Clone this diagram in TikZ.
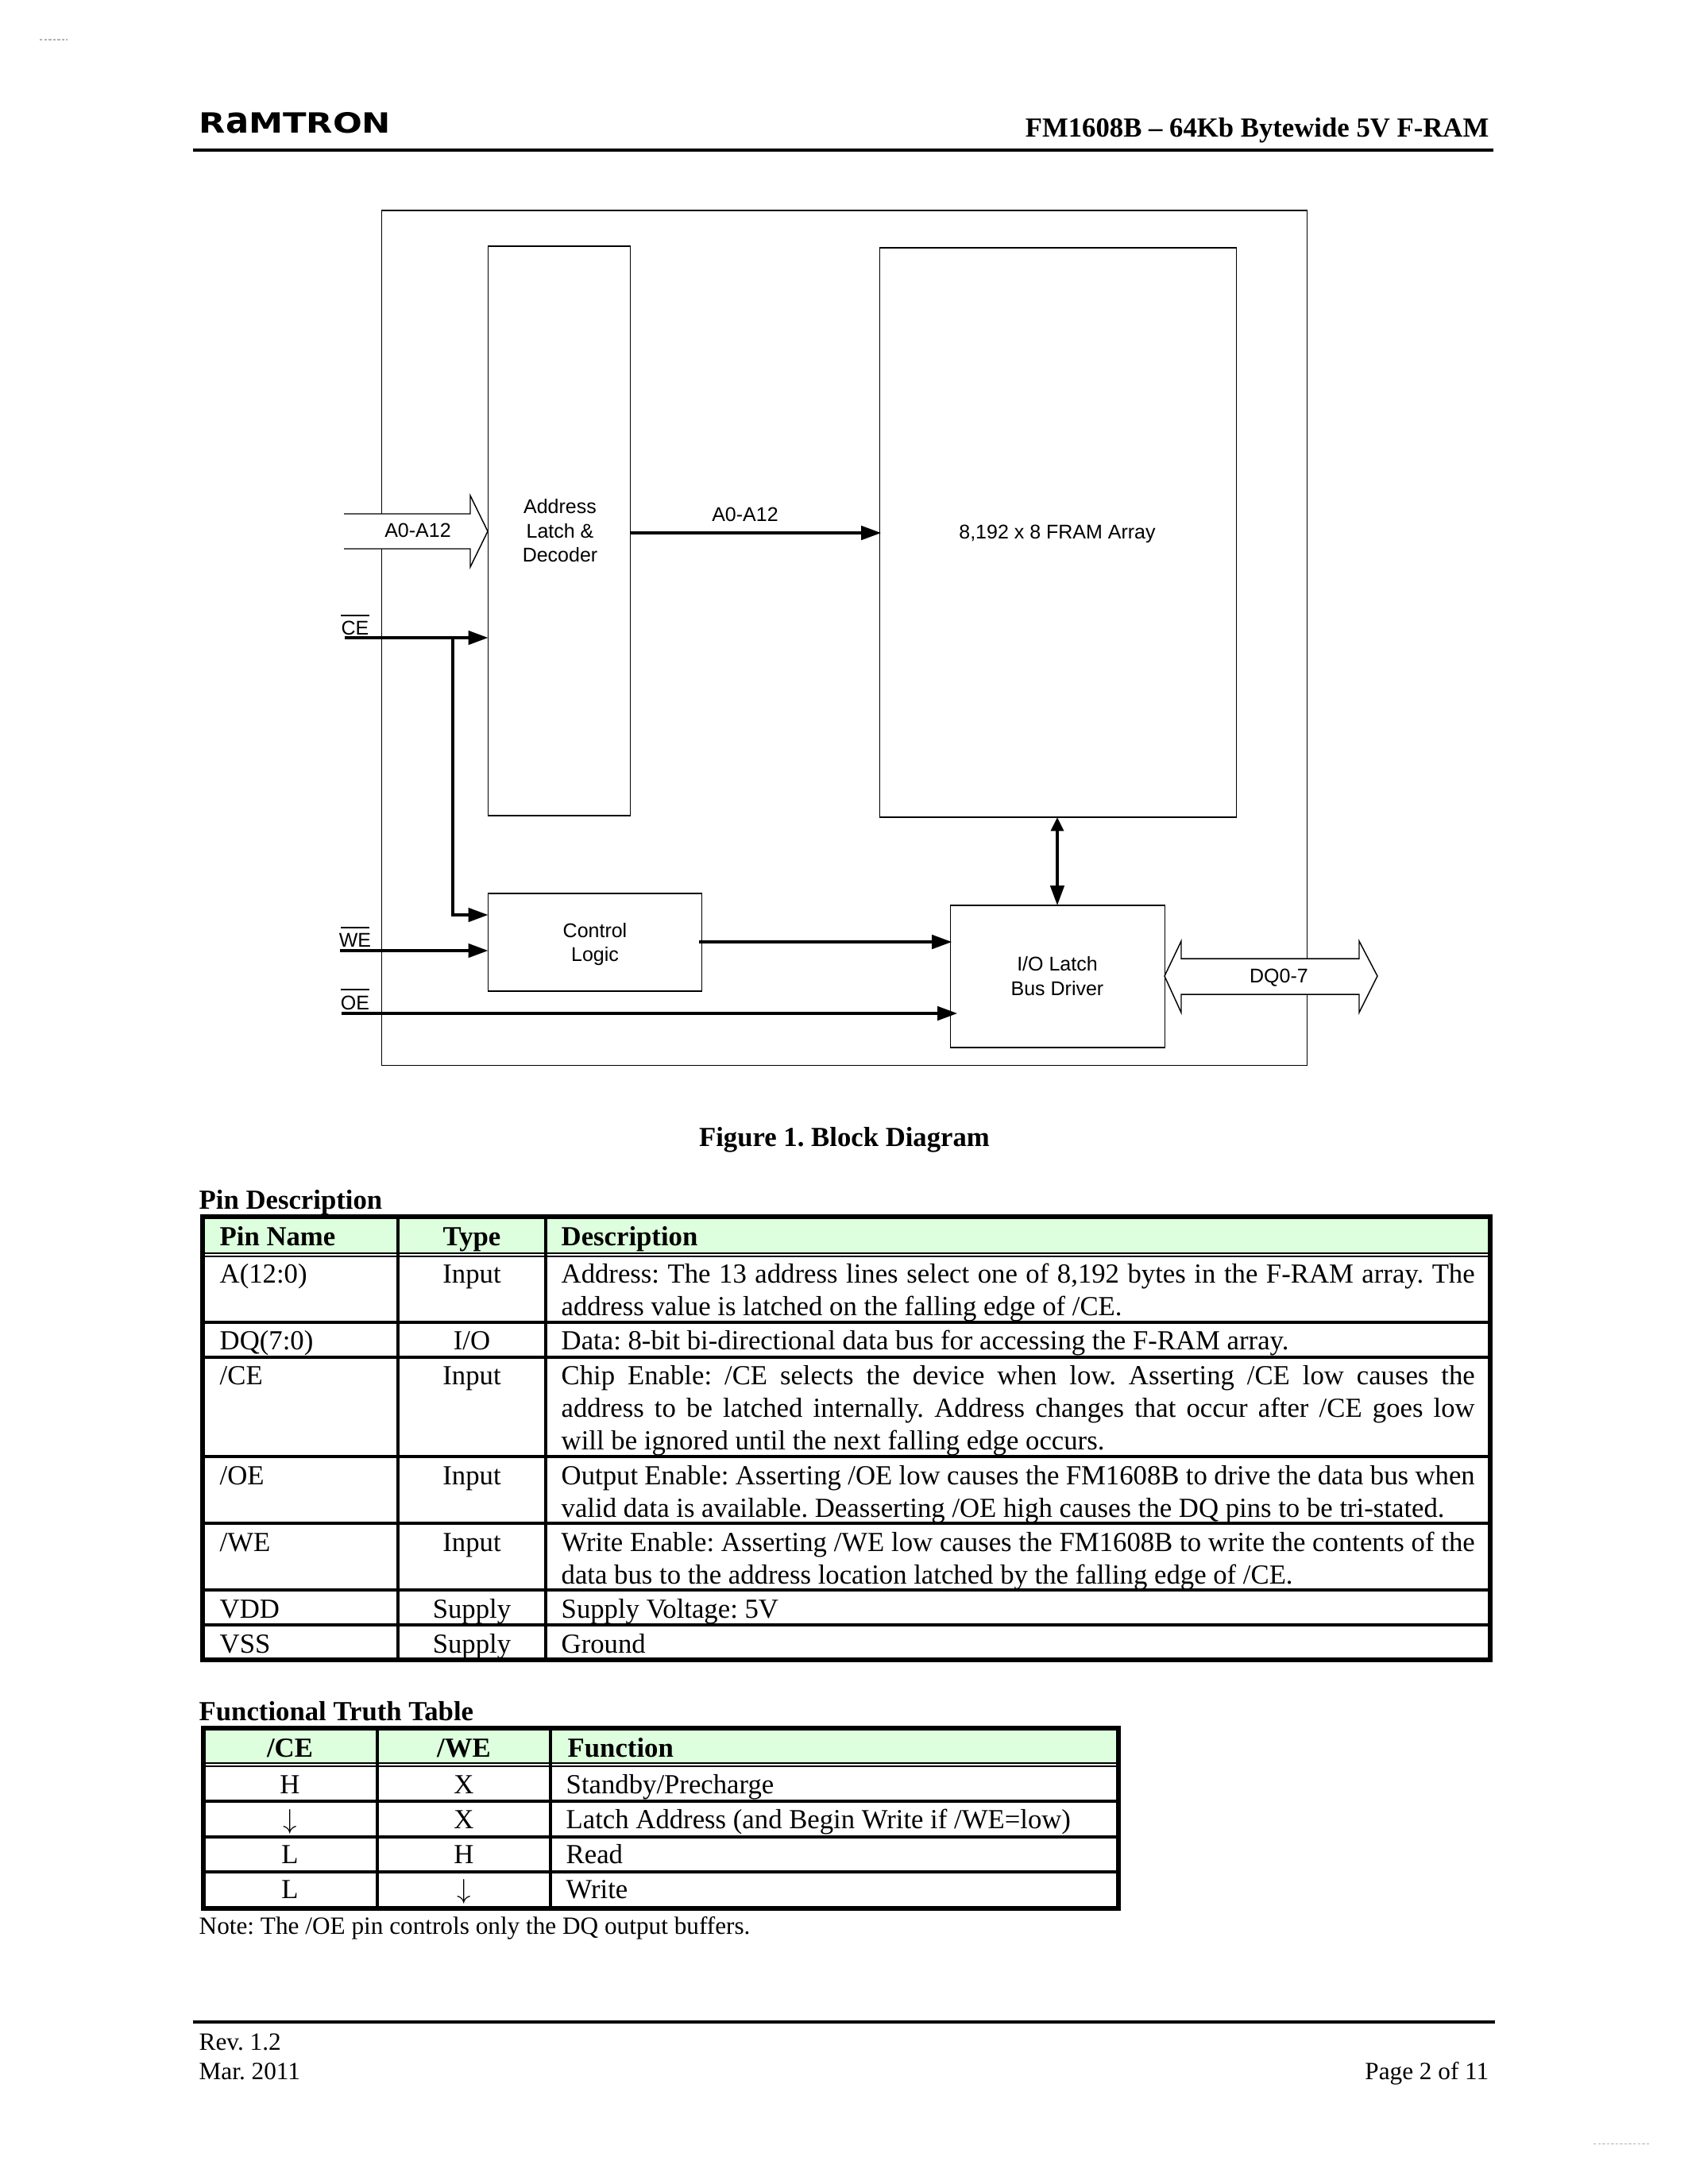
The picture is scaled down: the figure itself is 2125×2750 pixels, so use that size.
\documentclass[tikz,border=0pt]{standalone}
\usepackage{graphicx}
\usepackage{fontspec}
\setmainfont{Liberation Serif}
\newfontfamily\diagfont{Liberation Sans}
\newfontfamily\logofont{DejaVu Sans}
\usetikzlibrary{arrows.meta}
\frenchspacing
\definecolor{hdrgreen}{HTML}{DDFFDD}
\newcommand\tl[4]{\node[txt] (#1) at (#2,#3) {#4};}
\newcommand\tc[4]{\node[txtc] (#1) at (#2,#3) {#4};}
\newcommand\tb[4]{\node[txt,font=\fontsize{10}{12}\selectfont\bfseries] (#1) at (#2,#3) {#4};}
\newcommand\jl[3]{\node[txt] (#1) at (706,#2) {\makebox[331.2pt][s]{#3}};}
\newcommand\dl[4]{\node[dtxt] (#1) at (#2,#3) {#4};}
\tikzset{
  txt/.style={anchor=base west,inner sep=0pt,font=\fontsize{10}{12}\selectfont},
  txtc/.style={anchor=base,inner sep=0pt,font=\fontsize{10}{12}\selectfont},
  small/.style={font=\fontsize{9}{11}\selectfont},
  dtxt/.style={anchor=base,inner sep=0pt,font=\diagfont\fontsize{7.2}{9}\selectfont},
  thinl/.style={line width=0.42pt,black},
  blockbox/.style={draw,line width=0.42pt,inner sep=0pt,outer sep=0pt,anchor=north west},
  sig/.style={line width=1pt,black,-{Triangle[length=7.2pt,width=5pt]}},
  sigboth/.style={line width=1pt,black,{Triangle[length=5pt,width=4.6pt]}-{Triangle[length=7.2pt,width=5pt]}},
  bar/.style={line width=0.8pt},
  tabout/.style={line width=1.5pt,line cap=rect},
  tabin/.style={line width=1pt},
}
\begin{document}
\begin{tikzpicture}[x=0.288pt,y=-0.288pt]
\useasboundingbox (0,0) rectangle (2125,2750);
\fill[white] (0,0) rectangle (2125,2750);
% faint printer marks
\draw[black!30,line width=0.3pt,dash pattern=on 1pt off 0.6pt] (50,50) -- (85,50);
\draw[black!30,line width=0.3pt,dash pattern=on 1pt off 0.6pt] (2006,2699) -- (2076,2699);
% header
\node[inner sep=0pt,anchor=south west] (logo) at (250,169) {\resizebox{69.5pt}{7.5pt}{\logofont\bfseries R\scalebox{1}[1.3]{a}MTRON}};
\node[inner sep=0pt,anchor=base east,font=\fontsize{10}{12}\selectfont\bfseries] (title) at (1875,172) {FM1608B – 64Kb Bytewide 5V F-RAM};
\draw[line width=1.4pt] (243,189) -- (1880,189);
% block diagram
\node[blockbox,minimum width=335.5pt,minimum height=310pt] (chip) at (480.5,265) {};
\node[blockbox,minimum width=51.5pt,minimum height=206.5pt] (addr) at (614.5,310) {};
\node[blockbox,minimum width=129.3pt,minimum height=206.5pt] (fram) at (1107.5,312) {};
\node[blockbox,minimum width=77.5pt,minimum height=35.4pt] (ctrl) at (614.5,1125) {};
\node[blockbox,minimum width=77.8pt,minimum height=51.6pt] (io) at (1196.5,1140) {};
\draw[thinl,fill=white] (433,647) -- (592,647) -- (592,624) -- (614,669) -- (592,714) -- (592,691) -- (433,691);
\draw[thinl,fill=white] (1466,1229) -- (1487,1185) -- (1487,1207) -- (1711,1207) -- (1711,1185) -- (1734,1229) -- (1711,1275) -- (1711,1252) -- (1487,1252) -- (1487,1275) -- cycle;
\coordinate (cein) at (434,803);
\coordinate (wein) at (428,1197);
\coordinate (oein) at (430,1276);
\coordinate (cebr) at (570,803);
\coordinate (cebot) at (570,1152);
\draw[sig] (cein) -- (cein -| addr.west);
\draw[line width=1pt,-{Triangle[length=7.2pt,width=5pt]}] (cebr) -- (cebot) -- (cebot -| ctrl.west);
\draw[sig] (wein) -- (wein -| ctrl.west);
\draw[sig,shorten >=-2.5pt] (oein) -- (oein -| io.west);
\coordinate (amid) at (793,671);
\draw[sig,shorten >=-0.5pt] (amid) -- (amid -| fram.west);
\coordinate (cout) at (880,1186);
\draw[sig,shorten >=-0.5pt] (cout) -- (cout -| io.west);
\coordinate (biotop) at (1331,1029);
\draw[sigboth] (biotop) -- (biotop |- io.north);
\dl{lA}{705}{646}{Address}
\dl{lB}{705}{677}{Latch \&}
\dl{lC}{705}{707}{Decoder}
\dl{lAin}{526}{676}{A0-A12}
\dl{lAmid}{938}{656}{A0-A12}
\dl{lF}{1331}{678}{8,192 x 8 FRAM Array}
\dl{lCa}{749}{1180}{Control}
\dl{lCb}{749}{1210}{Logic}
\dl{lIa}{1331}{1222}{I/O Latch}
\dl{lIb}{1331}{1253}{Bus Driver}
\dl{lDQ}{1610}{1237}{DQ0-7}
\dl{lCE}{447}{799}{CE}
\dl{lWE}{447}{1192}{WE}
\dl{lOE}{447}{1271}{OE}
\draw[bar] (429,775) -- (465,775);
\draw[bar] (429,1168) -- (465,1168);
\draw[bar] (429,1246) -- (465,1246);
\node[anchor=base,inner sep=0pt,font=\fontsize{10}{12}\selectfont\bfseries] (fig) at (1063,1443) {Figure 1. Block Diagram};
% pin description
\tb{pd}{250}{1522}{Pin Description}
\fill[hdrgreen] (255,1532) rectangle (1876,1578);
\draw[thinl] (255,1578) -- (1876,1578);
\draw[thinl] (255,1582) -- (1876,1582);
\foreach \yy in {1665,1709,1834,1918,2002,2046} \draw[tabin] (255,\yy) -- (1876,\yy);
\draw[tabin] (501,1532) -- (501,2090);
\draw[tabin] (687,1532) -- (687,2090);
\draw[tabout] (255,1532) rectangle (1876,2090);
\tb{p1}{276}{1568}{Pin Name}
\node[txtc,font=\fontsize{10}{12}\selectfont\bfseries] (p2) at (594,1568) {Type};
\tb{p3}{706}{1568}{Description}
\tl{a1}{276}{1615}{A(12:0)}
\tc{a2}{594}{1615}{Input}
\jl{a3}{1615}{Address: The 13 address lines select one of 8,192 bytes in the F-RAM array. The}
\tl{a4}{706}{1656}{address value is latched on the falling edge of /CE.}
\tl{b1}{276}{1699}{DQ(7:0)}
\tc{b2}{594}{1699}{I/O}
\tl{b3}{706}{1699}{Data: 8-bit bi-directional data bus for accessing the F-RAM array.}
\tl{c1}{276}{1743}{/CE}
\tc{c2}{594}{1743}{Input}
\jl{c3}{1743}{Chip Enable: /CE selects the device when low. Asserting /CE low causes the}
\jl{c4}{1784}{address to be latched internally. Address changes that occur after /CE goes low}
\tl{c5}{706}{1825}{will be ignored until the next falling edge occurs.}
\tl{d1}{276}{1869}{/OE}
\tc{d2}{594}{1869}{Input}
\jl{d3}{1869}{Output Enable: Asserting /OE low causes the FM1608B to drive the data bus when}
\tl{d4}{706}{1910}{valid data is available. Deasserting /OE high causes the DQ pins to be tri-stated.}
\tl{e1}{276}{1953}{/WE}
\tc{e2}{594}{1953}{Input}
\jl{e3}{1953}{Write Enable: Asserting /WE low causes the FM1608B to write the contents of the}
\tl{e4}{706}{1994}{data bus to the address location latched by the falling edge of /CE.}
\tl{f1}{276}{2037}{VDD}
\tc{f2}{594}{2037}{Supply}
\tl{f3}{706}{2037}{Supply Voltage: 5V}
\tl{g1}{276}{2081}{VSS}
\tc{g2}{594}{2081}{Supply}
\tl{g3}{706}{2081}{Ground}
% truth table
\tb{ft}{250}{2166}{Functional Truth Table}
\fill[hdrgreen] (256,2176) rectangle (1408,2220);
\draw[thinl] (256,2220) -- (1408,2220);
\draw[thinl] (256,2224) -- (1408,2224);
\foreach \yy in {2268,2313,2357} \draw[tabin] (256,\yy) -- (1408,\yy);
\draw[tabin] (475,2176) -- (475,2403);
\draw[tabin] (693,2176) -- (693,2403);
\draw[tabout] (256,2176) rectangle (1408,2403);
\node[txtc,font=\fontsize{10}{12}\selectfont\bfseries] (t1) at (365,2212) {/CE};
\node[txtc,font=\fontsize{10}{12}\selectfont\bfseries] (t2) at (584,2212) {/WE};
\tb{t3}{714}{2212}{Function}
\tc{h1}{365}{2258}{H}
\tc{h2}{584}{2258}{X}
\tl{h3}{712}{2258}{Standby/Precharge}
\tc{i1}{365}{2302}{$\downarrow$}
\tc{i2}{584}{2302}{X}
\tl{i3}{712}{2302}{Latch Address (and Begin Write if /WE=low)}
\tc{j1}{365}{2346}{L}
\tc{j2}{584}{2346}{H}
\tl{j3}{712}{2346}{Read}
\tc{k1}{365}{2390}{L}
\tc{k2}{584}{2390}{$\downarrow$}
\tl{k3}{712}{2390}{Write}
\node[txt,small] (note) at (250,2435) {Note: The /OE pin controls only the DQ output buffers.};
% footer
\draw[line width=1pt] (243,2546) -- (1882,2546);
\node[txt,small] (rev) at (250,2581) {Rev. 1.2};
\node[txt,small] (mar) at (250,2618) {Mar. 2011};
\node[inner sep=0pt,anchor=base east,small] (pg) at (1875,2618) {Page 2 of 11};
\end{tikzpicture}
\end{document}
